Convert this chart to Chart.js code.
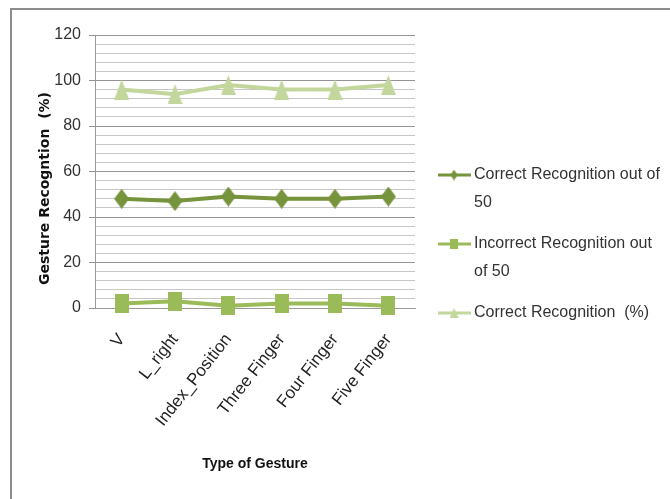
<!DOCTYPE html>
<html>
<head>
<meta charset="utf-8">
<script src="https://cdn.jsdelivr.net/npm/chart.js@4.4.0/dist/chart.umd.min.js"></script>
<style>
  html, body { margin: 0; padding: 0; background: #fff; }
  #wrap { position: relative; width: 670px; height: 499px; }
  #frame { position: absolute; left: 10px; top: 8px; right: 0; bottom: 0;
           border-left: 2px solid #8c8c8c; border-top: 2px solid #8c8c8c; }
  canvas { position: absolute; left: 0; top: 0; }
</style>
</head>
<body>
<div id="wrap">
  <div id="frame"></div>
  <canvas id="grafico" width="670" height="499"></canvas>
</div>
<script>
// dados
const gestos = ['V', 'L_right', 'Index_Position', 'Three Finger', 'Four Finger', 'Five Finger'];
const corretos50 = [48, 47, 49, 48, 48, 49];
const incorretos50 = [2, 3, 1, 2, 2, 1];
const corretosPct = [96, 94, 98, 96, 96, 98];

const nomes = ['Correct Recognition out of 50', 'Incorrect Recognition out of 50', 'Correct Recognition  (%)'];
const cores = ['#77933c', '#9bbb59', '#c3d69b'];

const fonte = '"Liberation Sans", Arial, sans-serif';

// marcadores no estilo do Excel (um pouco mais altos que largos)
function marcador(forma, w, h, cor) {
  const c = document.createElement('canvas');
  c.width = w; c.height = h;
  const g = c.getContext('2d');
  g.fillStyle = cor;
  g.beginPath();
  if (forma === 'diamante') {
    g.moveTo(w / 2, 0); g.lineTo(w, h / 2); g.lineTo(w / 2, h); g.lineTo(0, h / 2);
  } else if (forma === 'quadrado') {
    g.rect(0, 0, w, h);
  } else {
    g.moveTo(w / 2, 0); g.lineTo(w, h); g.lineTo(0, h);
  }
  g.closePath();
  g.fill();
  return c;
}

const pontos = [marcador('diamante', 15, 20, cores[0]), marcador('quadrado', 14, 19, cores[1]), marcador('triangulo', 15, 20, cores[2])];
const pontosLegenda = [marcador('diamante', 7, 11, cores[0]), marcador('quadrado', 8, 10, cores[1]), marcador('triangulo', 9, 10, cores[2])];

// legenda desenhada a mao (texto quebrado em duas linhas como no Excel)
const legenda = {
  id: 'legenda',
  afterDraw(chart) {
    const ctx = chart.ctx;
    ctx.save();
    ctx.font = '16px ' + fonte;
    ctx.fillStyle = '#333';
    ctx.textBaseline = 'middle';
    let y = 175;
    chart.data.datasets.forEach((ds, i) => {
      ctx.strokeStyle = ds.borderColor;
      ctx.lineWidth = 3;
      ctx.beginPath(); ctx.moveTo(438, y); ctx.lineTo(471, y); ctx.stroke();
      const m = pontosLegenda[i];
      ctx.drawImage(m, 454 - m.width / 2, y - m.height / 2);
      // quebra de linha por largura
      const palavras = ds.label.split(' ');
      const linhas = [];
      let atual = '';
      palavras.forEach(p => {
        const teste = atual ? atual + ' ' + p : p;
        if (ctx.measureText(teste).width > 189 && atual) { linhas.push(atual); atual = p; }
        else atual = teste;
      });
      linhas.push(atual);
      linhas.forEach((l, k) => ctx.fillText(l, 474, y + k * 28));
      y += 69;
    });
    ctx.restore();
  }
};

new Chart(document.getElementById('grafico'), {
  type: 'line',
  data: {
    labels: gestos,
    datasets: [corretos50, incorretos50, corretosPct].map((d, i) => ({
      label: nomes[i],
      data: d,
      borderColor: cores[i],
      backgroundColor: cores[i],
      borderWidth: 4,
      pointStyle: pontos[i],
      tension: 0,
      clip: false
    }))
  },
  options: {
    responsive: false,
    animation: false,
    layout: { padding: { top: 35, right: 255, bottom: 0, left: 0 } },
    plugins: { legend: { display: false }, tooltip: { enabled: false } },
    scales: {
      x: {
        offset: true,
        afterFit: s => { s.height = 191; },
        grid: { display: false },
        border: { color: '#999', width: 1 },
        ticks: {
          autoSkip: false, minRotation: 52, maxRotation: 52, padding: 14,
          color: '#222', font: { family: fonte, size: 17 }
        },
        title: {
          display: true, text: 'Type of Gesture', color: '#111',
          font: { family: fonte, size: 14, weight: 'bold' },
          padding: { top: 0, bottom: 26 }
        }
      },
      y: {
        min: 0, max: 120,
        afterFit: s => { s.width = 95; },
        border: { color: '#999', width: 1 },
        grid: {
          color: c => (c.tick && c.tick.value % 20 === 0) ? '#949494' : '#c6c6c6',
          tickColor: c => (c.tick && c.tick.value % 20 === 0) ? '#949494' : 'rgba(0,0,0,0)',
          tickLength: 6
        },
        ticks: {
          stepSize: 4, autoSkip: false, maxTicksLimit: 40, padding: 8, color: '#333',
          font: { family: fonte, size: 16 },
          callback: v => (v % 20 === 0 ? v : '')
        },
        title: {
          display: true, text: 'Gesture Recogntion  (%)' + '\u00a0'.repeat(7), color: '#111',
          font: { family: 'DejaVu Sans', size: 14, weight: 'bold' },
          padding: { top: 37, bottom: 0 }
        }
      }
    }
  },
  plugins: [legenda]
});
</script>
</body>
</html>
